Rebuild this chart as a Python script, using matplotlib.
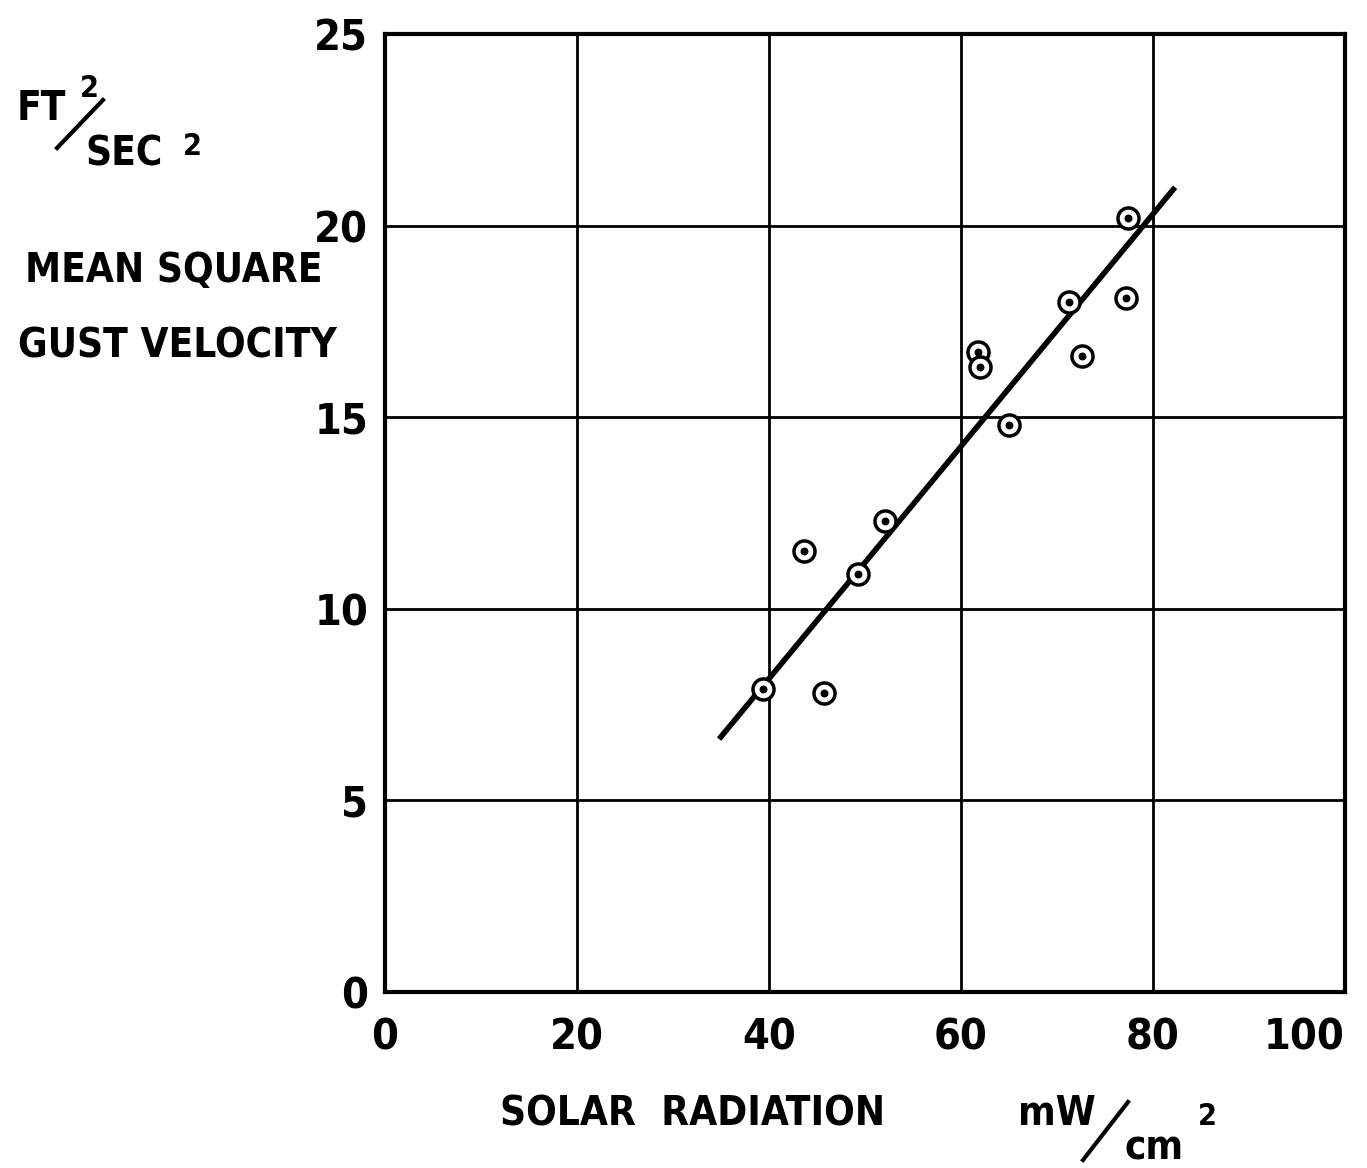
import matplotlib
matplotlib.use("Agg")
import matplotlib.pyplot as plt
from matplotlib.lines import Line2D

# solar radiation (mW/cm^2) vs mean square gust velocity (ft^2/sec^2)
solar = [39.4, 43.6, 45.7, 49.3, 52.1, 61.8, 62.0, 65.0, 71.2, 72.6, 77.2, 77.4]
gust = [7.9, 11.5, 7.8, 10.9, 12.3, 16.7, 16.3, 14.8, 18.0, 16.6, 18.1, 20.2]

# fitted line end points
fit_x = [34.8, 82.3]
fit_y = [6.6, 21.0]

xticks = [0, 20, 40, 60, 80, 100]
yticks = [0, 5, 10, 15, 20, 25]

W, H = 1367, 1168
plt.rcParams['font.family'] = ['DejaVu Sans']
plt.rcParams['font.stretch'] = 'condensed'
plt.rcParams['font.weight'] = 'bold'

fig = plt.figure(figsize=(W / 100, H / 100), dpi=100)
ax = fig.add_axes([385 / W, 1 - 992 / H, (1345 - 385) / W, (992 - 34) / H])

ax.plot(fit_x, fit_y, color='black', lw=4, solid_capstyle='butt', zorder=3)
ax.scatter(solar, gust, s=230, facecolor='white', edgecolor='black', linewidths=2.5, zorder=4)
ax.scatter(solar, gust, s=22, color='black', zorder=5)

ax.set_xlim(0, 100)
ax.set_ylim(0, 25)
ax.set_xticks(xticks)
ax.set_yticks(yticks)
ax.grid(True, color='black', lw=2)
ax.set_axisbelow(True)
for sp in ax.spines.values():
    sp.set_linewidth(3)
ax.tick_params(length=0, labelsize=31, pad=12)
ax.tick_params(axis='x', pad=18)
# last x label sits inside the right edge, as in the original
ax.get_xticklabels()[-1].set_horizontalalignment('right')


def px(x, y):
    return x / W, 1 - y / H


fs = 29
fig.text(*px(17, 120), 'FT', fontsize=fs, ha='left', va='baseline')
fig.text(*px(80, 97), '2', fontsize=22, ha='left', va='baseline')
fig.add_artist(Line2D([57 / W, 103 / W], [1 - 148 / H, 1 - 100 / H], color='black', lw=3))
fig.text(*px(85, 165), 'SEC', fontsize=fs, ha='left', va='baseline')
fig.text(*px(183, 155), '2', fontsize=22, ha='left', va='baseline')
fig.text(*px(174, 282), 'MEAN SQUARE', fontsize=fs, ha='center', va='baseline')
fig.text(*px(177, 357), 'GUST VELOCITY', fontsize=fs, ha='center', va='baseline')

fig.text(*px(693, 1125), 'SOLAR  RADIATION', fontsize=fs, ha='center', va='baseline')
fig.text(*px(1018, 1125), 'mW', fontsize=fs, ha='left', va='baseline')
fig.add_artist(Line2D([1083 / W, 1128 / W], [1 - 1160 / H, 1 - 1102 / H], color='black', lw=3))
fig.text(*px(1125, 1160), 'cm', fontsize=fs, ha='left', va='baseline')
fig.text(*px(1198, 1125), '2', fontsize=22, ha='left', va='baseline')

fig.savefig('out.png', dpi=100)
